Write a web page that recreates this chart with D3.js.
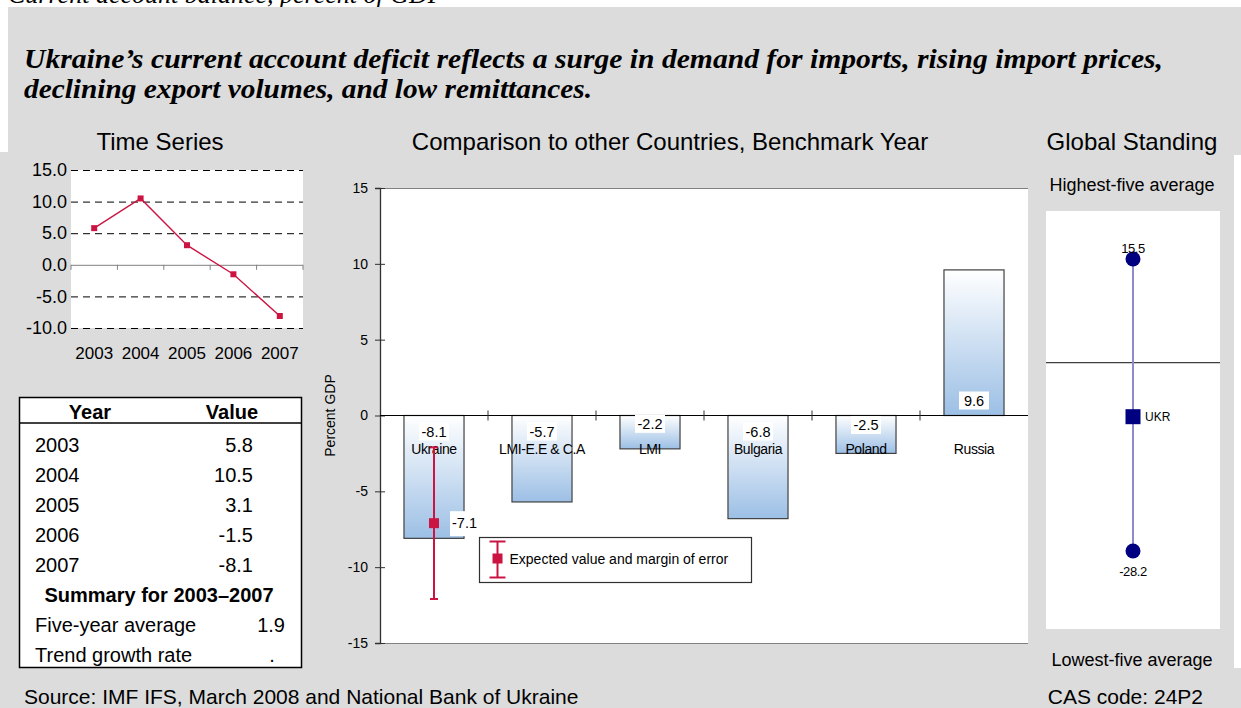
<!DOCTYPE html>
<html>
<head>
<meta charset="utf-8">
<script src="https://cdn.jsdelivr.net/npm/d3@7"></script>
<style>
  html, body { margin: 0; padding: 0; background: #fff; }
  svg { display: block; }
  text { font-family: "Liberation Sans", Arial, sans-serif; fill: #000; }
</style>
</head>
<body>
<svg id="chart" width="1241" height="708"></svg>
<script>
// ---- Data ----
const tsYears = ["2003", "2004", "2005", "2006", "2007"];
const tsValues = [5.8, 10.5, 3.1, -1.5, -8.1];
const tsTicks = [15, 10, 5, 0, -5, -10];

const tableValues = ["5.8", "10.5", "3.1", "-1.5", "-8.1"];
const summaryTitle = "Summary for 2003\u20132007";
const summaryLabels = ["Five-year average", "Trend growth rate"];
const summaryValues = ["1.9", "."];

const countries = ["Ukraine", "LMI-E.E & C.A", "LMI", "Bulgaria", "Poland", "Russia"];
const countryValues = [-8.1, -5.7, -2.2, -6.8, -2.5, 9.6];
const barTicks = [15, 10, 5, 0, -5, -10, -15];

const expectedValue = [-7.1];
const expectedLow = [-12.1];
const expectedHigh = [-2.1];

const standingValues = [15.5, -28.2];   // highest-five avg, lowest-five avg
const standingCountry = ["UKR"];
const standingCountryValue = [-8.1];

const red = "#CC1442";
const navy = "#000080";
const gray = "#DCDCDC";
const fmt1 = v => d3.format(".1f")(v).replace("\u2212", "-");

const svg = d3.select("#chart");

// ---- Backdrop ----
svg.append("rect").attr("x", 0).attr("y", 0).attr("width", 1241).attr("height", 708).attr("fill", "#fff");
// heading of the page above, mostly hidden by the panel
svg.append("text").attr("x", 8).attr("y", 3)
  .style("font-family", "'Liberation Serif', 'Times New Roman', serif")
  .style("font-style", "italic").style("font-size", "26px")
  .text("Current account balance, percent of GDP");
svg.append("rect").attr("x", 8).attr("y", 7).attr("width", 1233).attr("height", 701).attr("fill", gray);
svg.append("rect").attr("x", 0).attr("y", 152).attr("width", 8).attr("height", 556).attr("fill", gray);
svg.append("rect").attr("x", 1234).attr("y", 155).attr("width", 7).attr("height", 513).attr("fill", "#fff");

// ---- Headline ----
const headline = ["Ukraine\u2019s current account deficit reflects a surge in demand for imports, rising import prices,",
                  "declining export volumes, and low remittances."];
const headlineWidths = [1139, 568];
svg.selectAll("text.headline").data(headline).join("text")
  .attr("class", "headline")
  .attr("x", 24).attr("y", (d, i) => 68 + i * 30)
  .attr("textLength", (d, i) => headlineWidths[i]).attr("lengthAdjust", "spacingAndGlyphs")
  .style("font-family", "'Liberation Serif', 'Times New Roman', serif")
  .style("font-style", "italic").style("font-weight", "bold").style("font-size", "27px")
  .text(d => d);

// ---- Panel titles ----
const titleStyle = sel => sel.style("font-size", "24px").attr("text-anchor", "middle");
svg.append("text").attr("x", 160).attr("y", 150).call(titleStyle).text("Time Series");
svg.append("text").attr("x", 670).attr("y", 150).call(titleStyle).text("Comparison to other Countries, Benchmark Year");
svg.append("text").attr("x", 1132).attr("y", 150).call(titleStyle).text("Global Standing");

// ---- Time series ----
const xTs = d3.scaleBand().domain(tsYears).range([71, 303]);
const yTs = d3.scaleLinear().domain([-10, 15]).range([328, 170]);

svg.append("rect").attr("x", 71).attr("y", 170).attr("width", 232).attr("height", 158).attr("fill", "#fff");

const tsAxis = svg.append("g").attr("transform", "translate(71,0)")
  .call(d3.axisLeft(yTs).tickValues(tsTicks).tickSize(-232).tickPadding(4).tickFormat(fmt1));
tsAxis.select(".domain").remove();
tsAxis.selectAll(".tick line")
  .attr("stroke", d => d === 0 ? "#808080" : "#000")
  .attr("stroke-dasharray", d => d === 0 ? null : "7,5");
tsAxis.selectAll(".tick text").style("font-size", "18px").style("font-family", "'Liberation Sans', Arial, sans-serif");

// category ticks on the zero line
const tsEdges = tsYears.map(y => xTs(y)).concat([xTs(tsYears[tsYears.length - 1]) + xTs.bandwidth()]);
svg.selectAll("line.tsEdge").data(tsEdges).join("line").attr("class", "tsEdge")
  .attr("x1", d => d).attr("x2", d => d)
  .attr("y1", yTs(0)).attr("y2", yTs(0) + 5)
  .attr("stroke", "#808080");

const tsX = svg.append("g").attr("transform", "translate(0,347)")
  .call(d3.axisBottom(xTs).tickSize(0).tickPadding(0));
tsX.select(".domain").remove();
tsX.selectAll(".tick text").style("font-size", "17px").style("font-family", "'Liberation Sans', Arial, sans-serif");

const tsPts = tsYears.map((y, i) => [xTs(y) + xTs.bandwidth() / 2, yTs(tsValues[i])]);
svg.append("path").attr("d", d3.line()(tsPts)).attr("fill", "none").attr("stroke", red).attr("stroke-width", 1.4);
svg.selectAll("rect.tsPt").data(tsPts).join("rect").attr("class", "tsPt")
  .attr("x", d => d[0] - 3).attr("y", d => d[1] - 3).attr("width", 6).attr("height", 6).attr("fill", red);

// ---- Table ----
svg.append("rect").attr("x", 19.5).attr("y", 397.5).attr("width", 282).attr("height", 270)
  .attr("fill", "#fff").attr("stroke", "#000").attr("stroke-width", 1.5);
svg.append("line").attr("x1", 19.5).attr("x2", 301.5).attr("y1", 423).attr("y2", 423).attr("stroke", "#000").attr("stroke-width", 1.5);
svg.append("text").attr("x", 90).attr("y", 419).attr("text-anchor", "middle")
  .style("font-size", "20px").style("font-weight", "bold").text("Year");
svg.append("text").attr("x", 232).attr("y", 419).attr("text-anchor", "middle")
  .style("font-size", "20px").style("font-weight", "bold").text("Value");

const rowY = i => 452 + i * 30;
svg.selectAll("text.tYear").data(tsYears).join("text").attr("class", "tYear")
  .attr("x", 35).attr("y", (d, i) => rowY(i)).style("font-size", "20px").text(d => d);
svg.selectAll("text.tVal").data(tableValues).join("text").attr("class", "tVal")
  .attr("x", 253).attr("y", (d, i) => rowY(i)).attr("text-anchor", "end").style("font-size", "20px").text(d => d);
svg.append("text").attr("x", 159).attr("y", rowY(5)).attr("text-anchor", "middle")
  .style("font-size", "20px").style("font-weight", "bold").text(summaryTitle);
svg.selectAll("text.sLab").data(summaryLabels).join("text").attr("class", "sLab")
  .attr("x", 35).attr("y", (d, i) => rowY(6 + i)).style("font-size", "20px").text(d => d);
svg.selectAll("text.sVal").data(summaryValues).join("text").attr("class", "sVal")
  .attr("x", (d, i) => i === 0 ? 285 : 272).attr("y", (d, i) => rowY(6 + i))
  .attr("text-anchor", (d, i) => i === 0 ? "end" : "middle").style("font-size", "20px").text(d => d);

// ---- Country comparison ----
const xBar = d3.scaleBand().domain(countries).range([380, 1028]);
const yBar = d3.scaleLinear().domain([-15, 15]).range([643, 188]);
const barW = xBar.bandwidth() * 0.556;
const y0 = yBar(0);

const defs = svg.append("defs");
const grad = defs.append("linearGradient").attr("id", "barFill").attr("x1", 0).attr("y1", 0).attr("x2", 0).attr("y2", 1);
grad.append("stop").attr("offset", "0%").attr("stop-color", "#FFFFFF");
grad.append("stop").attr("offset", "100%").attr("stop-color", "#9CBFE5");

svg.append("rect").attr("x", 380).attr("y", 188).attr("width", 648).attr("height", 455).attr("fill", "#fff");
svg.append("line").attr("x1", 380).attr("x2", 1028).attr("y1", 188.5).attr("y2", 188.5).attr("stroke", "#808080").attr("stroke-width", 1.2);
svg.append("line").attr("x1", 380).attr("x2", 1028).attr("y1", 643.5).attr("y2", 643.5).attr("stroke", "#808080").attr("stroke-width", 1.2);

svg.selectAll("rect.bar").data(countries).join("rect").attr("class", "bar")
  .attr("x", d => xBar(d) + (xBar.bandwidth() - barW) / 2)
  .attr("y", (d, i) => Math.min(yBar(countryValues[i]), y0))
  .attr("width", barW)
  .attr("height", (d, i) => Math.abs(yBar(countryValues[i]) - y0))
  .attr("fill", "url(#barFill)").attr("stroke", "#404040").attr("stroke-width", 1.2);

// y axis
const barAxis = svg.append("g").attr("transform", "translate(380,0)")
  .call(d3.axisLeft(yBar).tickValues(barTicks).tickSize(5).tickPadding(7).tickFormat(d => String(d)));
barAxis.select(".domain").attr("stroke", "#303030").attr("stroke-width", 1.3);
barAxis.selectAll(".tick line").attr("x1", 5).attr("stroke", "#303030");
barAxis.selectAll(".tick text").style("font-size", "14px").style("font-family", "'Liberation Sans', Arial, sans-serif");

svg.append("text").attr("transform", `translate(335,${y0}) rotate(-90)`).attr("text-anchor", "middle")
  .style("font-size", "14px").text("Percent GDP");

// zero line with category separators
svg.append("line").attr("x1", 380).attr("x2", 1028).attr("y1", y0).attr("y2", y0).attr("stroke", "#000").attr("stroke-width", 1.2);
svg.selectAll("line.catTick").data(countries.slice(1)).join("line").attr("class", "catTick")
  .attr("x1", d => xBar(d)).attr("x2", d => xBar(d))
  .attr("y1", y0 - 5).attr("y2", y0 + 5).attr("stroke", "#303030");

// category names
const catAxis = svg.append("g").attr("transform", `translate(0,${y0})`)
  .call(d3.axisBottom(xBar).tickSize(0).tickPadding(29));
catAxis.select(".domain").remove();
catAxis.selectAll(".tick text").style("font-size", "14px").style("letter-spacing", "-0.4px")
  .style("font-family", "'Liberation Sans', Arial, sans-serif");

// value labels on white boxes, near the base of each bar
const valLabels = svg.selectAll("g.valLab").data(countries).join("g").attr("class", "valLab")
  .attr("transform", (d, i) => {
    const v = countryValues[i];
    const len = Math.abs(yBar(v) - y0);
    const off = Math.min(16, len / 4);
    const cy = v < 0 ? y0 + off : y0 - 15;
    return `translate(${xBar(d) + xBar.bandwidth() / 2},${cy})`;
  });
valLabels.append("rect").attr("x", -15).attr("y", -9).attr("width", 30).attr("height", 18).attr("fill", "#fff");
valLabels.append("text").attr("text-anchor", "middle").attr("dy", "0.36em").style("font-size", "14.5px")
  .text((d, i) => fmt1(countryValues[i]));

// expected value and margin of error
const ex = xBar(countries[0]) + xBar.bandwidth() / 2;
const err = svg.append("g");
err.append("line").attr("x1", ex).attr("x2", ex).attr("y1", yBar(expectedHigh[0])).attr("y2", yBar(expectedLow[0]))
  .attr("stroke", red).attr("stroke-width", 2);
[expectedHigh[0], expectedLow[0]].forEach(v => {
  err.append("line").attr("x1", ex - 4).attr("x2", ex + 4).attr("y1", yBar(v)).attr("y2", yBar(v))
    .attr("stroke", red).attr("stroke-width", 2);
});
err.append("rect").attr("x", ex - 5).attr("y", yBar(expectedValue[0]) - 5).attr("width", 10).attr("height", 10).attr("fill", red);
err.append("rect").attr("x", 450).attr("y", yBar(expectedValue[0]) - 12).attr("width", 27).attr("height", 25).attr("fill", "#fff");
err.append("text").attr("x", 452).attr("y", yBar(expectedValue[0])).attr("dy", "0.36em")
  .style("font-size", "14.5px").text(fmt1(expectedValue[0]));

// legend
const lg = svg.append("g").attr("transform", "translate(479.5,537.5)");
lg.append("rect").attr("width", 272).attr("height", 45).attr("fill", "#fff").attr("stroke", "#303030").attr("stroke-width", 1.2);
lg.append("line").attr("x1", 18).attr("x2", 18).attr("y1", 4).attr("y2", 40).attr("stroke", red).attr("stroke-width", 2);
lg.append("line").attr("x1", 10).attr("x2", 26).attr("y1", 4).attr("y2", 4).attr("stroke", red).attr("stroke-width", 2);
lg.append("line").attr("x1", 10).attr("x2", 26).attr("y1", 40).attr("y2", 40).attr("stroke", red).attr("stroke-width", 2);
lg.append("rect").attr("x", 13).attr("y", 16).attr("width", 10).attr("height", 10).attr("fill", red);
lg.append("text").attr("x", 30).attr("y", 21).attr("dy", "0.36em").style("font-size", "14px")
  .text("Expected value and margin of error");

// ---- Global standing ----
const yStd = d3.scaleLinear().domain([standingValues[1], standingValues[0]]).range([551, 259]);
const sx = 1133;
svg.append("text").attr("x", 1132).attr("y", 191).attr("text-anchor", "middle").style("font-size", "18px").text("Highest-five average");
svg.append("rect").attr("x", 1046).attr("y", 211).attr("width", 174).attr("height", 418).attr("fill", "#fff");
svg.append("line").attr("x1", 1046).attr("x2", 1220).attr("y1", yStd(0)).attr("y2", yStd(0)).attr("stroke", "#404040").attr("stroke-width", 1.2);
svg.append("line").attr("x1", sx).attr("x2", sx).attr("y1", yStd(standingValues[0])).attr("y2", yStd(standingValues[1]))
  .attr("stroke", "#8C8CCC").attr("stroke-width", 2);
svg.selectAll("circle.std").data(standingValues).join("circle").attr("class", "std")
  .attr("cx", sx).attr("cy", d => yStd(d)).attr("r", 7.5).attr("fill", navy);
svg.selectAll("text.stdLab").data(standingValues).join("text").attr("class", "stdLab")
  .attr("x", sx).attr("y", (d, i) => i === 0 ? yStd(d) - 6 : yStd(d) + 25).attr("text-anchor", "middle")
  .style("font-size", "13px").style("letter-spacing", "-0.4px").text(d => fmt1(d));
svg.append("rect").attr("x", sx - 7.5).attr("y", yStd(standingCountryValue[0]) - 7.5).attr("width", 15).attr("height", 15).attr("fill", navy);
svg.append("text").attr("x", sx + 12).attr("y", yStd(standingCountryValue[0])).attr("dy", "0.36em")
  .style("font-size", "12px").text(standingCountry[0]);
svg.append("text").attr("x", 1132).attr("y", 666).attr("text-anchor", "middle").style("font-size", "18px").text("Lowest-five average");

// ---- Footer ----
svg.append("text").attr("x", 24).attr("y", 704).style("font-size", "21px")
  .text("Source: IMF IFS, March 2008 and National Bank of Ukraine");
svg.append("text").attr("x", 1203).attr("y", 704).attr("text-anchor", "end").style("font-size", "21px").text("CAS code: 24P2");
</script>
</body>
</html>
